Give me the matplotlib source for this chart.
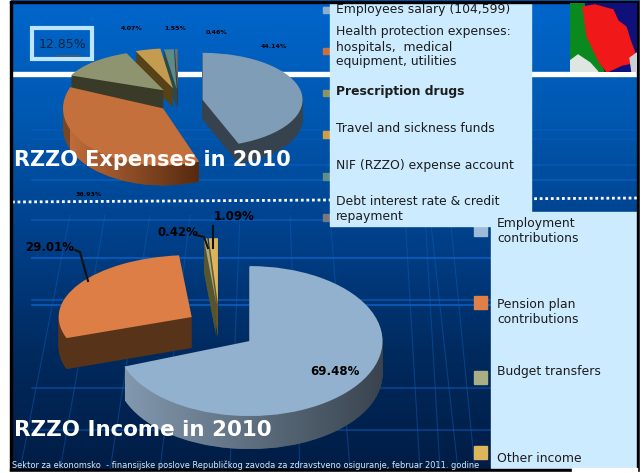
import numpy as np
import matplotlib
matplotlib.use('Agg')
import matplotlib.pyplot as plt
from matplotlib.colors import LinearSegmentedColormap
from matplotlib.patches import Rectangle
from matplotlib.path import Path

W, H = 642, 473

# Expenses pie
exp_names = ['Employees salary (104,599)',
             'Health protection expenses:\nhospitals,  medical\nequipment, utilities',
             'Prescription drugs', 'Travel and sickness funds',
             'NIF (RZZO) expense account',
             'Debt interest rate & credit\nrepayment']
exp_values = [44.14, 36.93, 12.85, 4.07, 1.55, 0.46]
exp_labels = ['44.14%', '36.93%', '12.85%', '4.07%', '1.55%', '0.46%']
exp_explode = [0.25, 0.21, 0.20, 0.20, 0.17, 0.17]
exp_top = ['#809DB8', '#C4703C', '#8E9470', '#C49C50', '#5E8A88', '#6E7078']
exp_side = ['#36434F', '#7A4522', '#3A3A28', '#574218', '#2A4A4A', '#3A3A40']
exp_legend = ['#8FAECB', '#C87040', '#8C9260', '#D0A040', '#5F9088', '#777780']

# Income pie
inc_names = ['Employment\ncontributions', 'Pension plan\ncontributions',
             'Budget transfers', 'Other income']
inc_values = [69.48, 29.01, 0.42, 1.09]
inc_labels = ['69.48%', '29.01%', '0.42%', '1.09%']
inc_explode = [0.28, 0.27, 0.24, 0.24]
inc_top = ['#92B1CE', '#DC7E46', '#A8AC80', '#DCB45A']
inc_side = ['#3C4650', '#57331A', '#55552F', '#6B5425']
inc_legend = ['#9DBAD6', '#E08048', '#A9AE84', '#DDB55C']

fig = plt.figure(figsize=(W / 100, H / 100), dpi=100, facecolor='white')


def px_axes(z):
    ax = fig.add_axes([0, 0, 1, 1], zorder=z)
    ax.set_xlim(0, W)
    ax.set_ylim(H, 0)
    ax.axis('off')
    return ax


def pie_3d(values, explode, top, side, show, cx, cy, rx, ry, depth, z, grad=None):
    # full-figure axes, scaled so the unit pie becomes an ellipse
    # only the wedges in show are painted, the others keep their angle
    ax = fig.add_axes([0, 0, 1, 1], zorder=z)
    ax.patch.set_alpha(0)
    xlim = (-cx / rx, (W - cx) / rx)
    ylim = ((cy - H) / ry, cy / ry)
    top = [c if i in show else 'none' for i, c in enumerate(top)]
    side = [c if i in show else 'none' for i, c in enumerate(side)]
    side_paths = {i: [] for i in range(len(values))}
    for d in np.arange(depth, 0, -1.0):
        wedges, _ = ax.pie(values, explode=explode, colors=side, startangle=90,
                           counterclock=False, center=(0, -d / ry))
        for i, w in enumerate(wedges):
            side_paths[i].append(w.get_path().transformed(w.get_patch_transform()))
    # gradient along the side faces
    for i, (c0, c1, x0, x1) in (grad or {}).items():
        cmap = LinearSegmentedColormap.from_list('side', [c0, c1])
        im = ax.imshow(np.linspace(0, 1, 256)[None, :], cmap=cmap, aspect='auto', zorder=1.5,
                       extent=((x0 - cx) / rx, (x1 - cx) / rx, ylim[0], ylim[1]))
        im.set_clip_path(Path.make_compound_path(*side_paths[i]), ax.transData)
    wedges, _ = ax.pie(values, explode=explode, colors=top, startangle=90,
                       counterclock=False, center=(0, 0))
    for w in wedges:
        w.set_zorder(2)
    ax.set_aspect('auto')
    ax.set_xlim(*xlim)
    ax.set_ylim(*ylim)
    return ax


# background
bg = px_axes(0)
cmap = LinearSegmentedColormap.from_list('bg', ['#0066CC', '#0058B0', '#00408A', '#002A5E', '#001C44'])
bg.imshow(np.linspace(0, 1, 256)[:, None], cmap=cmap, aspect='auto', extent=(0, W, H, 0), zorder=0)
bg.set_xlim(0, W)
bg.set_ylim(H, 0)

# grid of the slide template
for y, a in [(130, 0.4), (139, 0.4), (165, 0.5), (180, 0.7), (220, 0.7), (258, 0.9), (300, 0.7),
             (305, 0.9), (388, 0.5), (430, 0.5)]:
    bg.plot([32, 640], [y, y], color='#0A62C8', lw=1.2, alpha=a, zorder=1)
for x0, x1 in [(20, 70), (60, 105), (110, 150), (160, 190), (230, 240), (300, 290),
               (350, 330), (420, 405), (440, 425), (458, 430), (475, 450)]:
    bg.plot([x0, x1], [470, 215], color='#0F5FB8', lw=0.8, alpha=0.45, zorder=1)

# slide rules
bg.add_patch(Rectangle((12, 72), 628, 4, color='white', zorder=2))
bg.plot([12, 640], [202, 198], color='white', lw=2, ls=(0, (1, 1)), zorder=2)

# the picture has perspective, so the far and near wedges get their own height
pie_3d(exp_values, exp_explode, exp_top, exp_side, [2, 3, 4, 5], 178, 96, 100, 40, 19, 1.0)
pie_3d(exp_values, exp_explode, exp_top, exp_side, [0], 178, 102, 100, 47, 20, 1.1)
pie_3d(exp_values, exp_explode, exp_top, exp_side, [1], 178, 100, 100, 57, 20, 1.2,
       grad={1: ('#BE6C3A', '#55290F', 70, 200)})
pie_3d(inc_values, inc_explode, inc_top, inc_side, [2, 3], 219, 320, 133, 66, 33, 2.0)
pie_3d(inc_values, inc_explode, inc_top, inc_side, [0], 219, 329, 133, 75, 33, 2.1,
       grad={0: ('#8298AE', '#38434E', 125, 385)})
pie_3d(inc_values, inc_explode, inc_top, inc_side, [1], 222, 326, 133, 62, 31, 2.2)

top = px_axes(3)
top.patch.set_alpha(0)

# legend squares
for y, c in zip([10, 51, 93, 134, 176, 217], exp_legend):
    top.add_patch(Rectangle((323, y - 3), 6.5, 6.5, color=c))
for y, c in zip([229, 302, 377, 452], inc_legend):
    top.add_patch(Rectangle((474, y - 6.5), 13, 13, color=c))

# legend panels
panel = '#CCEBFF'
top.add_patch(Rectangle((330, 3), 201, 223, color=panel))
top.add_patch(Rectangle((491, 212), 146, 256, color=panel))

txt = '#1C1C1C'
for (y, s), weight in zip(zip([10, 47, 91, 128, 165, 209], exp_names),
                          ['normal', 'normal', 'bold', 'normal', 'normal', 'normal']):
    top.text(336, y, s, fontsize=8.9, color=txt, va='center', ha='left', weight=weight,
             linespacing=1.2)
for y, s in zip([231, 312, 371, 458], inc_names):
    top.text(497, y, s, fontsize=8.9, color=txt, va='center', ha='left', linespacing=1.15)

# map in the corner
mp = fig.add_axes([570 / W, 1 - 72 / H, 67 / W, 69 / H], zorder=4)
mp.set_xlim(0, 67)
mp.set_ylim(69, 0)
mp.axis('off')
mp.add_patch(Rectangle((0, 0), 67, 69, color='#10107A'))
mp.fill([0, 14, 16, 18, 26, 30, 34, 0], [0, 0, 15, 33, 45, 60, 69, 69], color='#0A8A1E')
mp.fill([0, 8, 20, 28, 0], [58, 52, 60, 69, 69], color='#DDE6E0')
mp.fill([13, 25, 43, 48, 56, 60, 66, 62, 52, 37, 30, 24, 17],
        [4, 2, 7, 18, 24, 37, 53, 60, 62, 69, 60, 48, 33], color='#F01818')
mp.fill([60, 67, 67, 62], [55, 50, 69, 69], color='#C8D0D8')

# percentage labels
for x, y, s in [(89, 194, exp_labels[1]), (132, 29, exp_labels[3]), (175, 29, exp_labels[4]),
                (217, 33, exp_labels[5]), (274, 47, exp_labels[0])]:
    top.text(x, y, s, fontsize=4.5, color='black', weight='bold', ha='center', va='center')

top.add_patch(Rectangle((31.5, 28.5), 60, 31, fill=False, ec='#BCE6FF', lw=3))
top.plot([57, 80], [56, 56], color='#4A5A6A', lw=1.2)
top.text(62.5, 44.5, exp_labels[2], fontsize=9, color='#10243A', ha='center', va='center')

for x, y, s in [(335, 371, inc_labels[0]), (50, 247, inc_labels[1]), (178, 232, inc_labels[2]),
                (234, 216, inc_labels[3])]:
    top.text(x, y, s, fontsize=8.5, color='black', weight='bold', ha='center', va='center')
top.plot([75, 80, 88], [250, 252, 281], color='#111111', lw=1.5)
top.plot([196, 204, 208], [235, 237, 248], color='#111111', lw=1.5)
top.plot([213, 213], [226, 248], color='#111111', lw=1.5)

# titles and footer
top.text(14, 160, 'RZZO Expenses in 2010', fontsize=15, color='white', weight='bold', va='center')
top.text(14, 430, 'RZZO Income in 2010', fontsize=15.4, color='white', weight='bold', va='center')
top.text(12, 465.5, 'Sektor za ekonomsko  - finansijske poslove Republičkog zavoda za zdravstveno '
         'osiguranje, februar 2011. godine', fontsize=5.95, color='#D8E8F4', va='center')

# slide frame
top.add_patch(Rectangle((0, 0), 9.5, H, color='white'))
top.add_patch(Rectangle((9.5, 1), 2.5, 471, color='black'))
top.add_patch(Rectangle((9.5, 1), 630, 2.2, color='black'))
top.add_patch(Rectangle((637, 1), 3, 471, color='black'))
top.add_patch(Rectangle((9.5, 469), 630, 3, color='black'))
top.add_patch(Rectangle((572, 468), 65, 3, color='white'))
top.add_patch(Rectangle((640, 0), 2, H, color='white'))
top.add_patch(Rectangle((0, 472), W, 1, color='white'))

fig.savefig('out.png', dpi=100)
